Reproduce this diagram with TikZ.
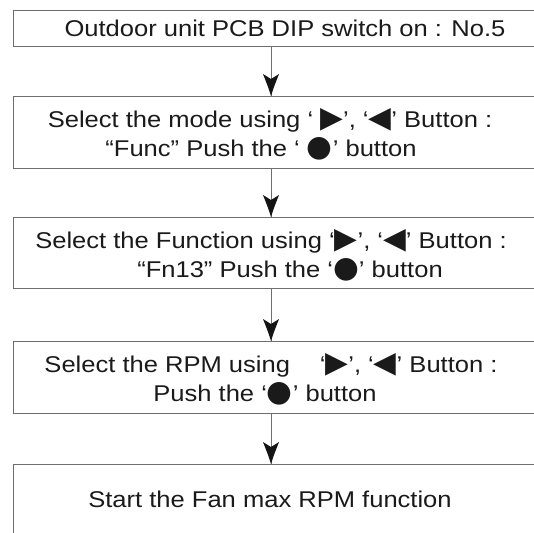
\documentclass[tikz,border=0pt]{standalone}
\usepackage{fontspec}
\setmainfont{Liberation Sans}[FakeStretch=1.12]
\newfontfamily\symfont{DejaVu Sans}[Scale=1.3]
\definecolor{boxgray}{HTML}{6E6E6E}
\definecolor{txtcol}{HTML}{1A1A1A}
\newcommand{\tri}{{\symfont ▶}}
\newcommand{\tril}{{\symfont ◀}}
\newcommand{\dotb}{{\symfont ●}}
\begin{document}
\begin{tikzpicture}[x=1pt,y=-1pt,
  stepbox/.style={draw=boxgray, line width=1.4pt, minimum width=580pt, anchor=north west, inner sep=0pt},
  txt/.style={anchor=base, inner sep=0pt, text=txtcol, font=\fontsize{22.8}{28}\selectfont},
  flowline/.style={draw=boxgray, line width=1pt},
  flowhead/.style={fill=black!92}
]
\useasboundingbox (0,0) rectangle (534,532);
\clip (0,0) rectangle (534,532);
\node[stepbox, minimum height=36pt] (b1) at (13,10) {};
\node[stepbox, minimum height=72pt] (b2) at (13,96) {};
\node[stepbox, minimum height=71pt] (b3) at (13,217) {};
\node[stepbox, minimum height=72pt] (b4) at (13,341) {};
\node[stepbox, minimum height=100pt] (b5) at (13,464) {};

\node[txt] (t1) at (285,37) {Outdoor unit PCB DIP switch on : No.5};
\node[txt] (t2a) at (270,127) {Select the mode using ‘ \tri’, ‘\tril’ Button :};
\node[txt] (t2b) at (261,156) {“Func” Push the ‘ \dotb’ button};
\node[txt] (t3a) at (271,248) {Select the Function using ‘\tri’, ‘\tril’ Button :};
\node[txt] (t3b) at (290,277) {“Fn13” Push the ‘\dotb’ button};
\node[txt] (t4a) at (271,372) {Select the RPM using \quad‘\tri’, ‘\tril’ Button :};
\node[txt] (t4b) at (265,401) {Push the ‘\dotb’ button};
\node[txt] (t5) at (270,507) {Start the Fan max RPM function};

\coordinate (ax) at (271,0);
\foreach \a/\b in {b1/b2,b2/b3,b3/b4,b4/b5} {
  \draw[flowline] (\a.south -| ax) -- (\b.north -| ax);
  \fill[flowhead] (\b.north -| ax) .. controls ++(-2.5,-8) .. ++(-8,-22)
     -- ++(8,5) -- ++(8,-5) .. controls ++(-5.5,14) .. cycle;
}
\end{tikzpicture}
\end{document}
